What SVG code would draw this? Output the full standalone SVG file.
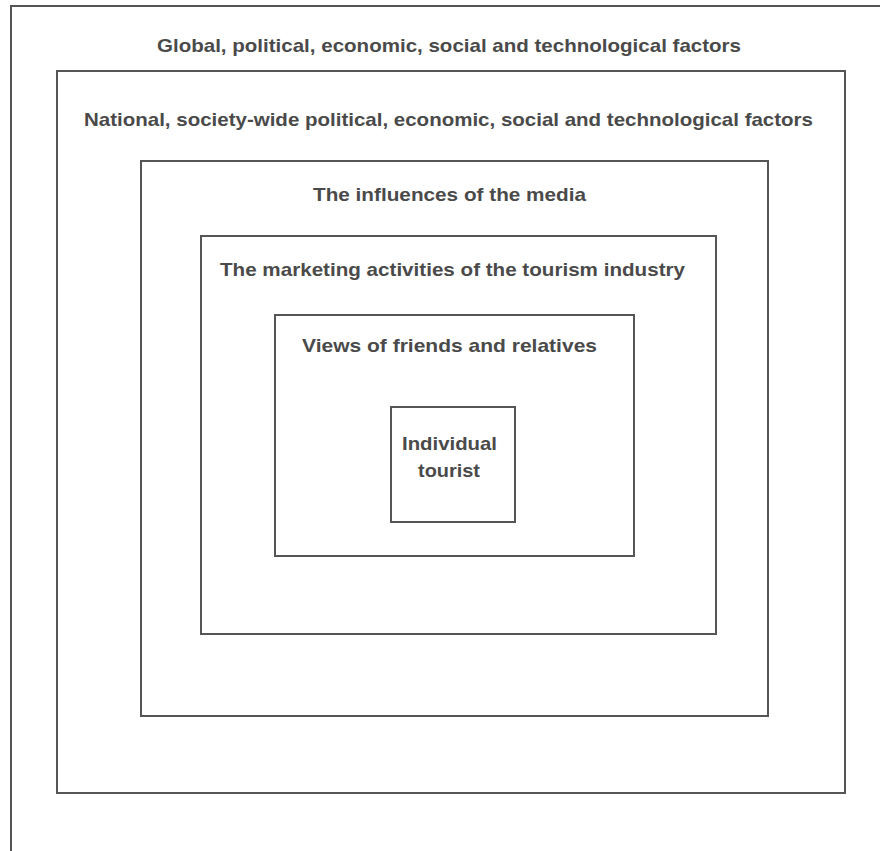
<svg xmlns="http://www.w3.org/2000/svg" width="880" height="851" viewBox="0 0 880 851">
<style>
.box{fill:none;stroke:#555;stroke-width:2}
.t{font-family:"Liberation Sans",Arial,sans-serif;font-size:19px;font-weight:bold;fill:#4a4a4a;text-anchor:middle}
</style>
<rect width="880" height="851" fill="#fff"/>
<g id="global">
<path class="box" d="M11,851 V6 H880"/>
<text class="t" x="449" y="52" textLength="584" lengthAdjust="spacingAndGlyphs">Global, political, economic, social and technological factors</text>
</g>
<g id="national">
<rect class="box" x="57" y="71" width="788" height="722"/>
<text class="t" x="448.5" y="126" textLength="729" lengthAdjust="spacingAndGlyphs">National, society-wide political, economic, social and technological factors</text>
</g>
<g id="media">
<rect class="box" x="141" y="161" width="627" height="555"/>
<text class="t" x="449.5" y="201" textLength="273" lengthAdjust="spacingAndGlyphs">The influences of the media</text>
</g>
<g id="marketing">
<rect class="box" x="201" y="236" width="515" height="398"/>
<text class="t" x="452.5" y="276" textLength="465" lengthAdjust="spacingAndGlyphs">The marketing activities of the tourism industry</text>
</g>
<g id="friends">
<rect class="box" x="275" y="315" width="359" height="241"/>
<text class="t" x="449.5" y="352" textLength="295" lengthAdjust="spacingAndGlyphs">Views of friends and relatives</text>
</g>
<g id="tourist">
<rect class="box" x="391" y="407" width="124" height="115"/>
<text class="t" x="449.5" y="450" textLength="95" lengthAdjust="spacingAndGlyphs">Individual</text>
<text class="t" x="449" y="477" textLength="62" lengthAdjust="spacingAndGlyphs">tourist</text>
</g>
<g id="connectors"></g>
</svg>
